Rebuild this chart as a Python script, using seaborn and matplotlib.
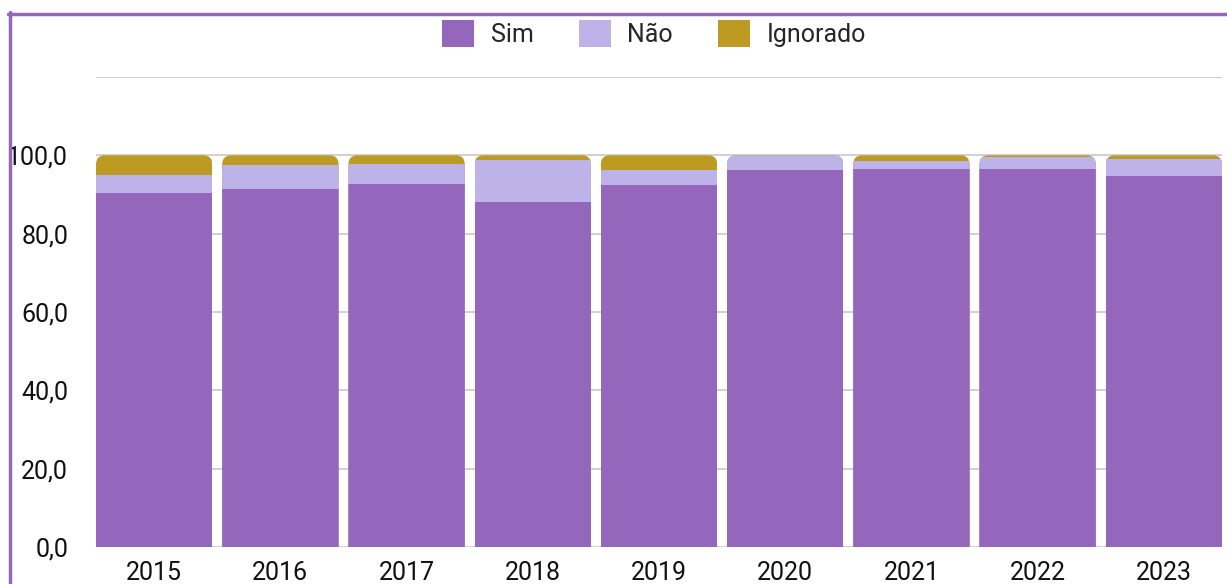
import numpy as np
import pandas as pd
import seaborn as sns
import matplotlib
matplotlib.use("Agg")
import matplotlib.pyplot as plt
from matplotlib.patches import FancyBboxPatch, Patch
from matplotlib.lines import Line2D

# Percentages per year
anos = ["2015", "2016", "2017", "2018", "2019", "2020", "2021", "2022", "2023"]
sim = [90.5, 91.3, 92.8, 88.1, 92.5, 96.3, 96.6, 96.6, 94.8]
nao = [4.5, 6.3, 5.1, 10.8, 3.8, 3.7, 2.0, 3.1, 4.3]
ignorado = [5.0, 2.4, 2.1, 1.1, 3.7, 0.0, 1.4, 0.3, 0.9]

series_names = ["Sim", "Não", "Ignorado"]
colors = {"Sim": "#9467bd", "Não": "#bdb3e8", "Ignorado": "#bd9b22"}
yticks = [0, 20, 40, 60, 80, 100, 120]

df = pd.DataFrame({"ano": anos, "Sim": sim, "Não": nao, "Ignorado": ignorado})
df["cum_sim"] = df["Sim"]
df["cum_nao"] = df["Sim"] + df["Não"]
df["cum_ign"] = df["cum_nao"] + df["Ignorado"]

sns.set_theme(style="white")
plt.rcParams["font.family"] = ["Roboto", "DejaVu Sans"]

fig = plt.figure(figsize=(12.27, 5.84), dpi=100)
ax = fig.add_axes([96 / 1227, 37 / 584, 1126 / 1227, 470 / 584])

bar_w = 0.922
# Cumulative layers drawn back to front
for col, name in [("cum_ign", "Ignorado"), ("cum_nao", "Não"), ("cum_sim", "Sim")]:
    sns.barplot(data=df, x="ano", y=col, color=colors[name], width=bar_w,
                saturation=1, ax=ax, linewidth=0, zorder=2)

ax.set_xlim(-bar_w / 2, len(anos) - 1 + bar_w / 2)
ax.set_ylim(0, 120)

# Rounded top corners: clip each column to a rounded outline of its stack
fig.canvas.draw()
x0, x1 = ax.get_xlim()
px_per_x = ax.bbox.width / (x1 - x0)
px_per_y = ax.bbox.height / 120
r_px = 9
r_x = r_px / px_per_x
aspect = (r_px / px_per_y) / r_x
clips = []
for i, total in enumerate(df["cum_ign"]):
    clip = FancyBboxPatch((i - bar_w / 2, -10), bar_w, total + 10,
                          boxstyle=f"round,pad=0,rounding_size={r_x}",
                          mutation_aspect=aspect, transform=ax.transData,
                          facecolor="none", edgecolor="none")
    clips.append(clip)
for bar in ax.patches:
    xc = bar.get_x() + bar.get_width() / 2
    idx = int(round(xc))
    bar.set_clip_path(clips[idx])

ax.set_yticks(yticks)
ax.set_yticklabels([f"{v:.1f}".replace(".", ",") if v <= 100 else "" for v in yticks])
ax.yaxis.grid(True, color="#c8c8c8", linewidth=1.2, zorder=0)
ax.set_axisbelow(True)
for s in ax.spines.values():
    s.set_visible(False)
ax.tick_params(axis="y", length=0, pad=20, labelsize=18, labelcolor="#111111")
ax.tick_params(axis="x", length=0, pad=10, labelsize=18, labelcolor="#111111")
ax.set_xlabel("")
ax.set_ylabel("")

# Legend
handles = [Patch(facecolor=colors[n], edgecolor="none", label=n) for n in series_names]
fig.legend(handles=handles, loc="center", bbox_to_anchor=(0.533, 0.943), ncol=3,
           frameon=False, fontsize=18, handlelength=1.3, handleheight=1.3,
           handletextpad=0.65, columnspacing=1.8)

# Frame lines on the left and top
fig.add_artist(Line2D([9.5 / 1227, 9.5 / 1227], [0, 1 - 12 / 584],
                      transform=fig.transFigure, color="#9467bd", linewidth=2.5))
fig.add_artist(Line2D([8 / 1227, 1], [1 - 14 / 584, 1 - 14 / 584],
                      transform=fig.transFigure, color="#9467bd", linewidth=2.5))

fig.savefig("out.png", dpi=100, facecolor="white")
